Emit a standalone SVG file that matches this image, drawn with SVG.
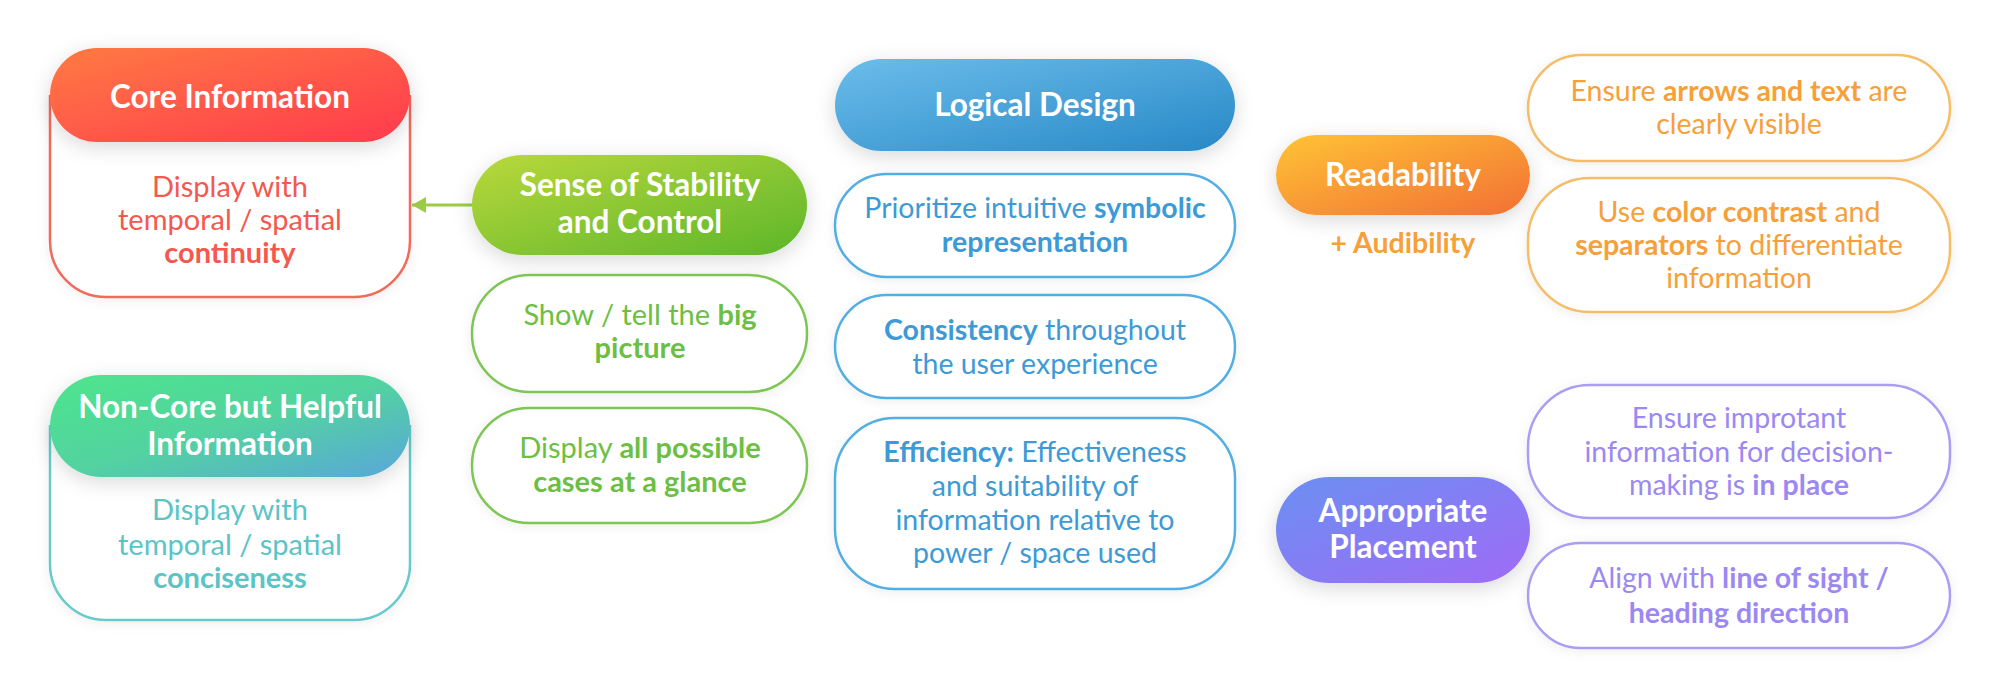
<svg xmlns="http://www.w3.org/2000/svg" width="2000" height="697" viewBox="0 0 2000 697">
<defs>
<linearGradient id="gCore" x1="0" y1="0" x2="1" y2="1"><stop offset="0" stop-color="#FF7A42"/><stop offset="1" stop-color="#FF3A4E"/></linearGradient>
<linearGradient id="gNon" x1="0" y1="0" x2="1" y2="1"><stop offset="0" stop-color="#4EE58C"/><stop offset="0.5" stop-color="#52D3A0"/><stop offset="1" stop-color="#5AA6DA"/></linearGradient>
<linearGradient id="gSense" x1="0" y1="0" x2="1" y2="1"><stop offset="0" stop-color="#BAD83C"/><stop offset="1" stop-color="#5CB62A"/></linearGradient>
<linearGradient id="gLogic" x1="0" y1="0" x2="1" y2="1"><stop offset="0" stop-color="#6BBDEB"/><stop offset="1" stop-color="#2888C6"/></linearGradient>
<linearGradient id="gRead" x1="0" y1="0" x2="1" y2="1"><stop offset="0" stop-color="#FFC436"/><stop offset="1" stop-color="#F26F34"/></linearGradient>
<linearGradient id="gPlace" x1="0" y1="0" x2="1" y2="1"><stop offset="0" stop-color="#6A90F2"/><stop offset="1" stop-color="#A06AF6"/></linearGradient>
<filter id="sh" x="-20%" y="-40%" width="140%" height="190%"><feDropShadow dx="0" dy="5" stdDeviation="10" flood-color="#000" flood-opacity="0.15"/></filter>
<filter id="sh2" x="-20%" y="-40%" width="140%" height="190%"><feDropShadow dx="0" dy="2" stdDeviation="6" flood-color="#000" flood-opacity="0.07"/></filter>
<marker id="arr" viewBox="0 0 14 16" refX="14" refY="8" markerWidth="14" markerHeight="16" markerUnits="userSpaceOnUse" orient="auto"><path d="M0,0 L14,8 L0,16 Z" fill="#9ACD45"/></marker>
</defs>
<style>
text{font-family:"Lato","Noto Sans",sans-serif;text-anchor:middle}
.h{font-weight:700;fill:#fff;font-size:31.5px}
.b{font-weight:700}
.t{font-size:29px}
.s{font-size:28.5px}
.core{fill:#F5584E}
.non{fill:#5BC4C6}
.grn{fill:#6CBF42}
.blu{fill:#3D9AD6}
.org{fill:#F7A03A}
.pur{fill:#9C88F2}
.box{fill:#fff;stroke-width:2.5}
</style>
<rect width="2000" height="697" fill="#fff"/>

<g id="connectors">
<line x1="472" y1="205" x2="412" y2="205" stroke="#9ACD45" stroke-width="3" marker-end="url(#arr)"/>
</g>

<g id="core-information">
<path class="box" filter="url(#sh2)" stroke="#F26B5B" d="M50,95 V241 A56,56 0 0 0 106,297 H354 A56,56 0 0 0 410,241 V95"/>
<rect x="50" y="48" width="360" height="94" rx="47" fill="url(#gCore)" filter="url(#sh)"/>
<text class="h" x="230" y="108">Core Information</text>
<text class="t core" x="230" y="197">Display with</text>
<text class="t core" x="230" y="230">temporal / spatial</text>
<text class="t core b" x="230" y="263">continuity</text>
</g>

<g id="non-core-information">
<path class="box" filter="url(#sh2)" stroke="#68CACB" d="M50,425 V564 A56,56 0 0 0 106,620 H354 A56,56 0 0 0 410,564 V425"/>
<rect x="50" y="375" width="360" height="102" rx="51" fill="url(#gNon)" filter="url(#sh)"/>
<text class="h" x="230" y="418">Non-Core but Helpful</text>
<text class="h" x="230" y="455">Information</text>
<text class="t non" x="230" y="520">Display with</text>
<text class="t non" x="230" y="555">temporal / spatial</text>
<text class="t non b" x="230" y="588">conciseness</text>
</g>

<g id="sense-of-stability">
<rect x="472" y="155" width="335" height="100" rx="50" fill="url(#gSense)" filter="url(#sh)"/>
<text class="h" x="640" y="196">Sense of Stability</text>
<text class="h" x="640" y="233">and Control</text>
</g>
<g id="big-picture">
<rect class="box" filter="url(#sh2)" x="472" y="275" width="335" height="117" rx="58" stroke="#7DC653"/>
<text class="t grn" x="640" y="325">Show / tell the <tspan class="b">big</tspan></text>
<text class="t grn b" x="640" y="358">picture</text>
</g>
<g id="all-cases">
<rect class="box" filter="url(#sh2)" x="472" y="408" width="335" height="115" rx="57" stroke="#7DC653"/>
<text class="t grn" x="640" y="458">Display <tspan class="b">all possible</tspan></text>
<text class="t grn b" x="640" y="492">cases at a glance</text>
</g>

<g id="logical-design">
<rect x="835" y="59" width="400" height="92" rx="46" fill="url(#gLogic)" filter="url(#sh)"/>
<text class="h" x="1035" y="116">Logical Design</text>
</g>
<g id="symbolic">
<rect class="box" filter="url(#sh2)" x="835" y="174" width="400" height="103" rx="51.5" stroke="#53AEE3"/>
<text class="s blu" x="1035" y="218">Prioritize intuitive <tspan class="b">symbolic</tspan></text>
<text class="s blu b" x="1035" y="252">representation</text>
</g>
<g id="consistency">
<rect class="box" filter="url(#sh2)" x="835" y="295" width="400" height="103" rx="51.5" stroke="#53AEE3"/>
<text class="s blu" x="1035" y="340"><tspan class="b">Consistency</tspan> throughout</text>
<text class="s blu" x="1035" y="374">the user experience</text>
</g>
<g id="efficiency">
<rect class="box" filter="url(#sh2)" x="835" y="418" width="400" height="171" rx="60" stroke="#53AEE3"/>
<text class="s blu" x="1035" y="462"><tspan class="b">Efficiency:</tspan> Effectiveness</text>
<text class="s blu" x="1035" y="496">and suitability of</text>
<text class="s blu" x="1035" y="530">information relative to</text>
<text class="s blu" x="1035" y="563">power / space used</text>
</g>

<g id="readability">
<rect x="1276" y="135" width="254" height="80" rx="40" fill="url(#gRead)" filter="url(#sh)"/>
<text class="h" x="1403" y="186">Readability</text>
<text class="org b" style="font-size:28.5px" x="1403" y="253">+ Audibility</text>
</g>
<g id="arrows-text">
<rect class="box" filter="url(#sh2)" x="1528" y="55" width="422" height="106" rx="53" stroke="#F6BD68"/>
<text class="s org" x="1739" y="101">Ensure <tspan class="b">arrows and text</tspan> are</text>
<text class="s org" x="1739" y="134">clearly visible</text>
</g>
<g id="color-contrast">
<rect class="box" filter="url(#sh2)" x="1528" y="178" width="422" height="134" rx="62" stroke="#F6BD68"/>
<text class="s org" x="1739" y="222">Use <tspan class="b">color contrast</tspan> and</text>
<text class="s org" x="1739" y="255"><tspan class="b">separators</tspan> to differentiate</text>
<text class="s org" x="1739" y="288">information</text>
</g>

<g id="appropriate-placement">
<rect x="1276" y="477" width="254" height="106" rx="53" fill="url(#gPlace)" filter="url(#sh)"/>
<text class="h" x="1403" y="522">Appropriate</text>
<text class="h" x="1403" y="558">Placement</text>
</g>
<g id="in-place">
<rect class="box" filter="url(#sh2)" x="1528" y="385" width="422" height="133" rx="62" stroke="#AC9DF2"/>
<text class="s pur" x="1739" y="428">Ensure improtant</text>
<text class="s pur" x="1739" y="462">information for decision-</text>
<text class="s pur" x="1739" y="495">making is <tspan class="b">in place</tspan></text>
</g>
<g id="line-of-sight">
<rect class="box" filter="url(#sh2)" x="1528" y="543" width="422" height="105" rx="52.5" stroke="#AC9DF2"/>
<text class="s pur" x="1739" y="588">Align with <tspan class="b">line of sight /</tspan></text>
<text class="s pur" x="1739" y="623"><tspan class="b">heading direction</tspan></text>
</g>
</svg>
